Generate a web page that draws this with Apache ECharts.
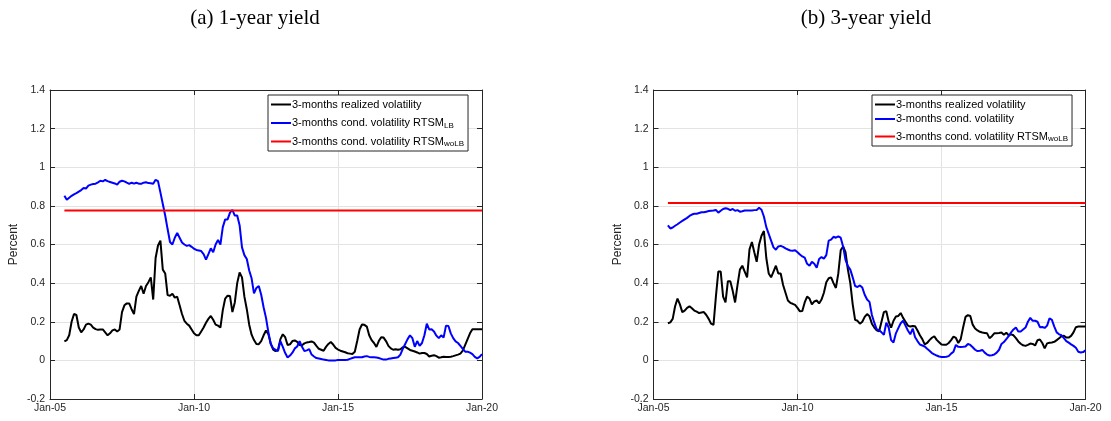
<!DOCTYPE html>
<html>
<head>
<meta charset="utf-8">
<title>3-months volatility</title>
<script src="https://cdn.jsdelivr.net/npm/echarts@6.0.0/dist/echarts.min.js"></script>
<style>
  html, body { margin: 0; padding: 0; background: #fff; }
  #main { width: 1111px; height: 421px; }
</style>
</head>
<body>
<div id="main"></div>
<script>
// monthly observations, first one is Jul-2005 (month 6 counted from Jan-2005), last one Jan-2020
var firstMonth = 6;
var xTickLabels = ['Jan-05', 'Jan-10', 'Jan-15', 'Jan-20'];
var yTicks = [-0.2, 0, 0.2, 0.4, 0.6, 0.8, 1, 1.2, 1.4];
var panelTitles = ['(a) 1-year yield', '(b) 3-year yield'];

var nameRealized = '3-months realized volatility';
var nameCondLB = '3-months cond. volatility RTSM_LB';
var nameCond = '3-months cond. volatility';
var nameWoLB = '3-months cond. volatility RTSM_woLB';

// (a) 1-year yield
var realized1y = [
  0.098, 0.105, 0.13, 0.20, 0.24, 0.235,
  0.17, 0.145, 0.16, 0.185, 0.19, 0.185, 0.17, 0.162, 0.158, 0.16, 0.16, 0.145,
  0.13, 0.14, 0.155, 0.16, 0.15, 0.16, 0.25, 0.285, 0.295, 0.295, 0.265, 0.24,
  0.33, 0.36, 0.385, 0.345, 0.385, 0.405, 0.43, 0.315, 0.53, 0.595, 0.62, 0.47,
  0.45, 0.338, 0.335, 0.345, 0.325, 0.33, 0.285, 0.24, 0.205, 0.19, 0.18, 0.16,
  0.14, 0.13, 0.13, 0.15, 0.17, 0.195, 0.215, 0.23, 0.21, 0.185, 0.18, 0.17,
  0.26, 0.32, 0.335, 0.333, 0.25, 0.3, 0.4, 0.455, 0.43, 0.33, 0.265, 0.185,
  0.133, 0.105, 0.085, 0.084, 0.1, 0.13, 0.155, 0.135, 0.085, 0.056, 0.048, 0.055,
  0.11, 0.135, 0.12, 0.08, 0.083, 0.1, 0.103, 0.096, 0.08, 0.078, 0.088, 0.093,
  0.095, 0.098, 0.092, 0.075, 0.06, 0.055, 0.05, 0.07, 0.085, 0.095, 0.082, 0.065,
  0.056, 0.05, 0.046, 0.042, 0.037, 0.035, 0.033, 0.045, 0.1, 0.16, 0.186, 0.184,
  0.175, 0.13, 0.105, 0.09, 0.07, 0.1, 0.12, 0.118, 0.1, 0.075, 0.062, 0.055,
  0.058, 0.055, 0.058, 0.068, 0.07, 0.062, 0.054, 0.05, 0.046, 0.041, 0.035, 0.038,
  0.038, 0.033, 0.02, 0.024, 0.027, 0.022, 0.014, 0.016, 0.019, 0.017, 0.017, 0.019,
  0.022, 0.026, 0.03, 0.035, 0.05, 0.08, 0.11, 0.14, 0.161, 0.161, 0.161, 0.161,
  0.161
];
var condLB1y = [
  0.853, 0.832, 0.842, 0.852, 0.86, 0.866,
  0.874, 0.882, 0.893, 0.89, 0.905, 0.91, 0.913, 0.915, 0.922, 0.93, 0.927, 0.934,
  0.928, 0.924, 0.92, 0.916, 0.91, 0.925, 0.93, 0.927, 0.92, 0.914, 0.92, 0.915,
  0.92, 0.915, 0.914, 0.92, 0.922, 0.918, 0.917, 0.915, 0.935, 0.928, 0.87, 0.81,
  0.75, 0.68, 0.613, 0.6, 0.635, 0.66, 0.635, 0.61, 0.6, 0.593, 0.597, 0.588,
  0.578, 0.572, 0.569, 0.566, 0.55, 0.522, 0.55, 0.58, 0.56, 0.6, 0.623, 0.6,
  0.69, 0.73, 0.73, 0.765, 0.779, 0.75, 0.75, 0.7, 0.585, 0.545, 0.525, 0.465,
  0.425, 0.347, 0.375, 0.385, 0.34, 0.275, 0.22, 0.145, 0.085, 0.062, 0.054, 0.048,
  0.1, 0.07, 0.038, 0.015, 0.025, 0.04, 0.062, 0.072, 0.1, 0.07, 0.048, 0.052,
  0.058, 0.03, 0.02, 0.012, 0.01, 0.007, 0.004, 0.002, 0, 0, 0, 0,
  0.002, 0.002, 0.002, 0.002, 0.003, 0.008, 0.012, 0.016, 0.016, 0.016, 0.016, 0.02,
  0.022, 0.018, 0.016, 0.016, 0.015, 0.012, 0.008, 0.004, 0.004, 0.008, 0.01, 0.012,
  0.014, 0.016, 0.03, 0.06, 0.085, 0.11, 0.13, 0.115, 0.07, 0.1, 0.075, 0.09,
  0.13, 0.19, 0.16, 0.161, 0.15, 0.128, 0.115, 0.13, 0.118, 0.18, 0.178, 0.14,
  0.115, 0.098, 0.09, 0.075, 0.06, 0.045, 0.045, 0.04, 0.032, 0.018, 0.01, 0.018,
  0.032
];

// (b) 3-year yield
var realized3y = [
  0.192, 0.197, 0.215, 0.28, 0.32, 0.29,
  0.25, 0.258, 0.272, 0.28, 0.27, 0.258, 0.252, 0.245, 0.248, 0.25, 0.235, 0.215,
  0.19, 0.184, 0.33, 0.46, 0.46, 0.33, 0.3, 0.41, 0.41, 0.36, 0.3, 0.39,
  0.47, 0.49, 0.46, 0.43, 0.575, 0.613, 0.56, 0.51, 0.6, 0.645, 0.67, 0.53,
  0.45, 0.43, 0.46, 0.49, 0.45, 0.45, 0.39, 0.35, 0.31, 0.298, 0.293, 0.287,
  0.272, 0.254, 0.256, 0.3, 0.33, 0.32, 0.29, 0.305, 0.31, 0.295, 0.315, 0.35,
  0.405, 0.425, 0.43, 0.4, 0.375, 0.45, 0.57, 0.59, 0.56, 0.47, 0.4, 0.29,
  0.21, 0.205, 0.19, 0.2, 0.225, 0.24, 0.228, 0.19, 0.17, 0.155, 0.15, 0.2,
  0.25, 0.255, 0.2, 0.17, 0.205, 0.227, 0.23, 0.245, 0.22, 0.2, 0.18, 0.175,
  0.178, 0.177, 0.155, 0.13, 0.11, 0.083, 0.09, 0.105, 0.117, 0.125, 0.106, 0.094,
  0.082, 0.081, 0.081, 0.09, 0.105, 0.123, 0.116, 0.09, 0.11, 0.17, 0.225, 0.234,
  0.23, 0.185, 0.165, 0.155, 0.148, 0.144, 0.142, 0.14, 0.115, 0.125, 0.14, 0.141,
  0.142, 0.144, 0.133, 0.143, 0.13, 0.135, 0.13, 0.115, 0.098, 0.086, 0.078, 0.075,
  0.08, 0.087, 0.085, 0.077, 0.104, 0.108, 0.09, 0.062, 0.088, 0.091, 0.093, 0.096,
  0.105, 0.115, 0.125, 0.128, 0.118, 0.118, 0.127, 0.145, 0.172, 0.175, 0.175, 0.175,
  0.175
];
var cond3y = [
  0.699, 0.683, 0.688, 0.697, 0.705, 0.714,
  0.722, 0.73, 0.738, 0.748, 0.755, 0.759, 0.759, 0.763, 0.767, 0.767, 0.77, 0.773,
  0.775, 0.776, 0.779, 0.765, 0.775, 0.784, 0.788, 0.785, 0.778, 0.784, 0.775, 0.778,
  0.77, 0.772, 0.776, 0.776, 0.776, 0.776, 0.778, 0.779, 0.79, 0.78, 0.745, 0.69,
  0.655, 0.62, 0.585, 0.573, 0.59, 0.593, 0.588, 0.58, 0.574, 0.569, 0.568, 0.57,
  0.56, 0.548, 0.538, 0.532, 0.5, 0.49, 0.51, 0.5, 0.48, 0.525, 0.535, 0.527,
  0.545, 0.62, 0.625, 0.64, 0.635, 0.642, 0.635, 0.59, 0.52, 0.488, 0.47, 0.43,
  0.385, 0.38, 0.388, 0.377, 0.34, 0.315, 0.303, 0.235, 0.195, 0.161, 0.156, 0.145,
  0.133, 0.195, 0.17, 0.105, 0.093, 0.14, 0.167, 0.192, 0.205, 0.18, 0.155, 0.135,
  0.165, 0.12, 0.1, 0.082, 0.077, 0.072, 0.06, 0.05, 0.038, 0.031, 0.025, 0.02,
  0.018, 0.017, 0.019, 0.022, 0.035, 0.045, 0.08, 0.07, 0.069, 0.07, 0.072, 0.085,
  0.08, 0.068, 0.055, 0.048, 0.05, 0.054, 0.04, 0.03, 0.025, 0.027, 0.03, 0.04,
  0.055, 0.085, 0.095, 0.11, 0.125, 0.145, 0.16, 0.17, 0.15, 0.15, 0.16, 0.17,
  0.2, 0.22, 0.205, 0.205, 0.2, 0.172, 0.173, 0.168, 0.18, 0.218, 0.21, 0.175,
  0.145, 0.135, 0.13, 0.115, 0.1, 0.092, 0.083, 0.075, 0.065, 0.045, 0.041, 0.043,
  0.052
];

// constant conditional volatility of the model without lower bound (1y, 3y)
var woLBLevel = [0.776, 0.815];

var axisColor = '#262626';
var gridColor = '#e3e3e3';
var tickFont = 'Liberation Sans';

function toPoints(arr) {
  return arr.map(function (v, i) { return [firstMonth + i, v]; });
}
function flatLine(level, n) {
  return [[firstMonth, level], [firstMonth + n - 1, level]];
}

var chart = echarts.init(document.getElementById('main'));

var panelLeft = [50, 653.5];
var grids = [], xAxes = [], yAxes = [], series = [], legends = [], graphics = [];

var panels = [
  { black: realized1y, blue: condLB1y, blueName: nameCondLB, red: woLBLevel[0] },
  { black: realized3y, blue: cond3y, blueName: nameCond, red: woLBLevel[1] }
];

var boxLine = { show: true, onZero: false, lineStyle: { color: axisColor, width: 1 } };
var boxTick = { show: true, inside: true, length: 5, lineStyle: { color: axisColor } };

panels.forEach(function (p, k) {
  grids.push({ left: panelLeft[k], top: 90, width: 432, height: 309 });

  // bottom axis with labels, top axis only for the box and ticks
  xAxes.push({
    type: 'value', gridIndex: k, min: 0, max: 180, interval: 60, position: 'bottom',
    axisLine: boxLine, axisTick: boxTick,
    axisLabel: {
      color: axisColor, fontFamily: tickFont, fontSize: 10.5, margin: 4,
      formatter: function (v) { return xTickLabels[Math.round(v / 60)]; }
    },
    splitLine: { show: true, lineStyle: { color: gridColor, width: 1 } }
  });
  xAxes.push({
    type: 'value', gridIndex: k, min: 0, max: 180, interval: 60, position: 'top',
    axisLine: boxLine, axisTick: boxTick,
    axisLabel: { show: false }, splitLine: { show: false }
  });
  yAxes.push({
    type: 'value', gridIndex: k, min: -0.2, max: 1.4, interval: 0.2, position: 'left',
    name: 'Percent', nameLocation: 'middle', nameGap: 30,
    nameTextStyle: { color: axisColor, fontFamily: tickFont, fontSize: 12 },
    axisLine: boxLine, axisTick: boxTick,
    axisLabel: {
      color: axisColor, fontFamily: tickFont, fontSize: 10.5, margin: 5,
      formatter: function (v) {
        var best = yTicks.reduce(function (a, b) { return Math.abs(b - v) < Math.abs(a - v) ? b : a; });
        return String(best);
      }
    },
    splitLine: { show: true, lineStyle: { color: gridColor, width: 1 } }
  });
  yAxes.push({
    type: 'value', gridIndex: k, min: -0.2, max: 1.4, interval: 0.2, position: 'right',
    axisLine: boxLine, axisTick: boxTick,
    axisLabel: { show: false }, splitLine: { show: false }
  });

  var common = { type: 'line', xAxisIndex: 2 * k, yAxisIndex: 2 * k, showSymbol: false, symbol: 'none', animation: false };
  series.push(Object.assign({}, common, {
    name: nameRealized, data: toPoints(p.black),
    lineStyle: { color: '#000000', width: 2 }, itemStyle: { color: '#000000' }
  }));
  series.push(Object.assign({}, common, {
    name: p.blueName, data: toPoints(p.blue),
    lineStyle: { color: '#0000ff', width: 2 }, itemStyle: { color: '#0000ff' }
  }));
  series.push(Object.assign({}, common, {
    name: nameWoLB, data: flatLine(p.red, p.black.length),
    lineStyle: { color: '#ff0000', width: 2 }, itemStyle: { color: '#ff0000' }
  }));

  legends.push({
    orient: 'vertical', left: [268, 872][k], top: 95,
    data: [nameRealized, p.blueName, nameWoLB],
    icon: 'rect', itemWidth: 20, itemHeight: 2, itemGap: [2.5, 1.5][k],
    padding: [3, 4, 3, 3],
    backgroundColor: '#ffffff', borderColor: axisColor, borderWidth: 1, borderRadius: 0,
    selectedMode: false,
    textStyle: {
      color: '#000000', fontFamily: tickFont, fontSize: 11, lineHeight: 13, padding: [0, 0, 0, -4],
      rich: {
        sub: { fontFamily: tickFont, fontSize: 8, lineHeight: 8, padding: [8, 0, 0, 0], verticalAlign: 'bottom', color: '#000000' }
      }
    },
    formatter: function (name) {
      return name.replace(/RTSM_(\w+)$/, 'RTSM{sub|$1}');
    }
  });

  graphics.push({
    type: 'text', x: [255, 866][k], y: 18,
    style: {
      text: panelTitles[k], fill: '#000000', textAlign: 'center', textVerticalAlign: 'middle',
      font: '21px "Liberation Serif"'
    }
  });
});

var option = {
  backgroundColor: '#ffffff',
  animation: false,
  grid: grids,
  xAxis: xAxes,
  yAxis: yAxes,
  legend: legends,
  graphic: graphics,
  series: series
};

chart.setOption(option);
</script>
</body>
</html>
